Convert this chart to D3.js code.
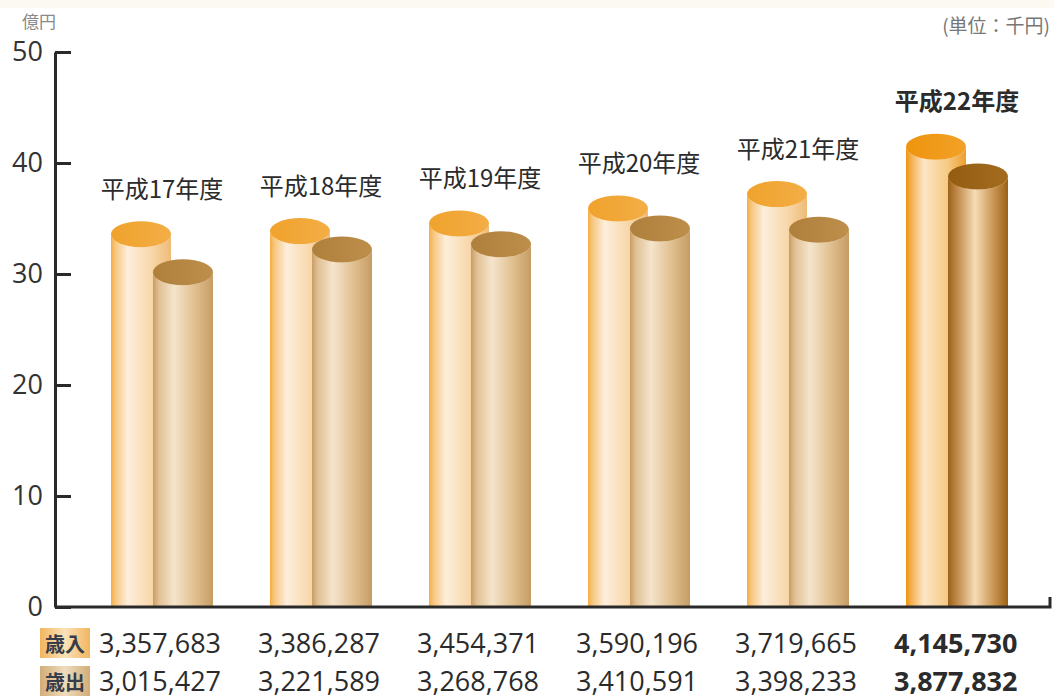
<!DOCTYPE html>
<html>
<head>
<meta charset="utf-8">
<script src="https://cdn.jsdelivr.net/npm/d3@7"></script>
<style>
  body { margin: 0; background: #fff; }
  svg { display: block; }
</style>
</head>
<body>
<div id="chart"></div>
<script>
var width = 1054, height = 698

// 年度ごとの歳入・歳出（千円）
var years = ["平成17年度", "平成18年度", "平成19年度", "平成20年度", "平成21年度", "平成22年度"]
var revenue = [3357683, 3386287, 3454371, 3590196, 3719665, 4145730]
var expense = [3015427, 3221589, 3268768, 3410591, 3398233, 3877832]
var yTicks = [0, 10, 20, 30, 40, 50]
var highlight = "平成22年度"

var data = years.map(function (y, i) {
  return { year: y, rev: revenue[i], exp: expense[i] }
})

var svg = d3.select("#chart").append("svg")
  .attr("width", width)
  .attr("height", height)

var jp = "'Noto Sans CJK JP', 'Noto Sans', sans-serif"
var num = "'Open Sans', 'Noto Sans', sans-serif"

var defs = svg.append("defs")
function grad(id, stops) {
  var g = defs.append("linearGradient").attr("id", id)
    .attr("x1", "0%").attr("x2", "100%").attr("y1", "0%").attr("y2", "0%")
  stops.forEach(function (s) {
    g.append("stop").attr("offset", s[0]).attr("stop-color", s[1])
  })
}
grad("revBody", [["0%", "#f4ad45"], ["8%", "#f7c883"], ["28%", "#fdeedb"], ["65%", "#f8d9ae"], ["100%", "#eebb78"]])
grad("expBody", [["0%", "#c99d64"], ["10%", "#e0c195"], ["35%", "#f5e4cb"], ["70%", "#e0bf8f"], ["100%", "#c69c64"]])
grad("revBodyH", [["0%", "#ee9410"], ["10%", "#f4b358"], ["30%", "#fde6c6"], ["70%", "#f6c983"], ["100%", "#ee9e2c"]])
grad("expBodyH", [["0%", "#9a6218"], ["15%", "#c0894a"], ["45%", "#f6dcb6"], ["80%", "#c38c48"], ["100%", "#9a6214"]])
grad("revTop", [["0%", "#f0a22c"], ["100%", "#f3ae46"]])
grad("expTop", [["0%", "#af7f3c"], ["100%", "#bd8f4b"]])
grad("revTopH", [["0%", "#ee940e"], ["100%", "#f3a127"]])
grad("expTopH", [["0%", "#935c12"], ["100%", "#a46c1e"]])
grad("badgeRev", [["0%", "#f1b660"], ["50%", "#fbe2b8"], ["100%", "#f1b660"]])
grad("badgeExp", [["0%", "#d2ad78"], ["50%", "#efdcbd"], ["100%", "#d2ad78"]])

// faint band at the top
svg.append("rect").attr("x", 0).attr("y", 0).attr("width", width).attr("height", 8)
  .attr("fill", "#fcf8f2")

var y = d3.scaleLinear()
  .domain([0, 50])
  .range([607, 52])

var x = d3.scaleBand()
  .domain(years)
  .range([111, 111 + 159 * 6])
  .paddingInner(0)

var cw = 60, ry = 13, off = 42

function cylinder(g, x0, v, body, top) {
  var yt = y(v / 100000)
  g.append("path")
    .attr("d", "M" + x0 + "," + yt + " A" + cw / 2 + "," + ry + " 0 0 0 " + (x0 + cw) + "," + yt +
      " V" + y(0) + " H" + x0 + " Z")
    .attr("fill", "url(#" + body + ")")
  g.append("ellipse")
    .attr("cx", x0 + cw / 2).attr("cy", yt)
    .attr("rx", cw / 2).attr("ry", ry)
    .attr("fill", "url(#" + top + ")")
}

var groups = svg.selectAll("g.grp")
  .data(data)
  .enter()
  .append("g")
  .attr("class", "grp")

groups.each(function (d) {
  var g = d3.select(this)
  var h = d.year === highlight
  cylinder(g, x(d.year), d.rev, h ? "revBodyH" : "revBody", h ? "revTopH" : "revTop")
  cylinder(g, x(d.year) + off, d.exp, h ? "expBodyH" : "expBody", h ? "expTopH" : "expTop")
})

// year labels above the revenue cylinder
groups.append("text")
  .attr("x", function (d) { return x(d.year) + 51 })
  .attr("y", function (d) { return y(d.rev / 100000) - 47 })
  .attr("text-anchor", "middle")
  .attr("dominant-baseline", "central")
  .style("font-family", jp)
  .style("font-size", "24px")
  .style("font-weight", function (d) { return d.year === highlight ? "bold" : "normal" })
  .style("fill", "#2b2b2b")
  .text(function (d) { return d.year })

// Y axis
var yAxis = svg.append("g")
  .attr("transform", "translate(55,0)")
  .call(d3.axisLeft(y).tickValues(yTicks).tickSize(-16).tickSizeOuter(0).tickPadding(12))
yAxis.selectAll("line, path").attr("stroke", "#2a2a2a").attr("stroke-width", 3)
yAxis.selectAll("text")
  .style("font-family", num)
  .style("font-size", "27px")
  .style("fill", "#333")

// X axis line with small hook at the right
svg.append("path")
  .attr("d", "M55," + y(0) + " H1050 V" + (y(0) - 10))
  .attr("fill", "none")
  .attr("stroke", "#2a2a2a")
  .attr("stroke-width", 3)

// unit labels
svg.append("text").attr("x", 22).attr("y", 20)
  .attr("dominant-baseline", "central")
  .style("font-family", jp).style("font-size", "17px").style("fill", "#8a8a8a")
  .text("億円")
svg.append("text").attr("x", 1050).attr("y", 24)
  .attr("text-anchor", "end").attr("dominant-baseline", "central")
  .style("font-family", jp).style("font-size", "19px").style("fill", "#777")
  .text("(単位：千円)")

// table rows below the axis
var rows = [
  { label: "歳入", vals: revenue, y: 642, badge: "badgeRev" },
  { label: "歳出", vals: expense, y: 680, badge: "badgeExp" }
]
var fmt = d3.format(",")
rows.forEach(function (r) {
  svg.append("rect")
    .attr("x", 40).attr("y", r.y - 14).attr("width", 50).attr("height", 30)
    .attr("fill", "url(#" + r.badge + ")")
  svg.append("text")
    .attr("x", 65).attr("y", r.y + 1)
    .attr("text-anchor", "middle").attr("dominant-baseline", "central")
    .style("font-family", jp).style("font-size", "20px").style("font-weight", "bold")
    .style("fill", "#363c4a")
    .text(r.label)
  svg.selectAll(null)
    .data(data)
    .enter()
    .append("text")
    .attr("x", function (d) { return x(d.year) - 12 })
    .attr("y", r.y)
    .attr("dominant-baseline", "central")
    .style("font-family", num)
    .style("font-size", "27px")
    .style("font-weight", function (d) { return d.year === highlight ? "bold" : "normal" })
    .style("fill", "#2b2b2b")
    .text(function (d, i) { return fmt(r.vals[i]) })
})
</script>
</body>
</html>
